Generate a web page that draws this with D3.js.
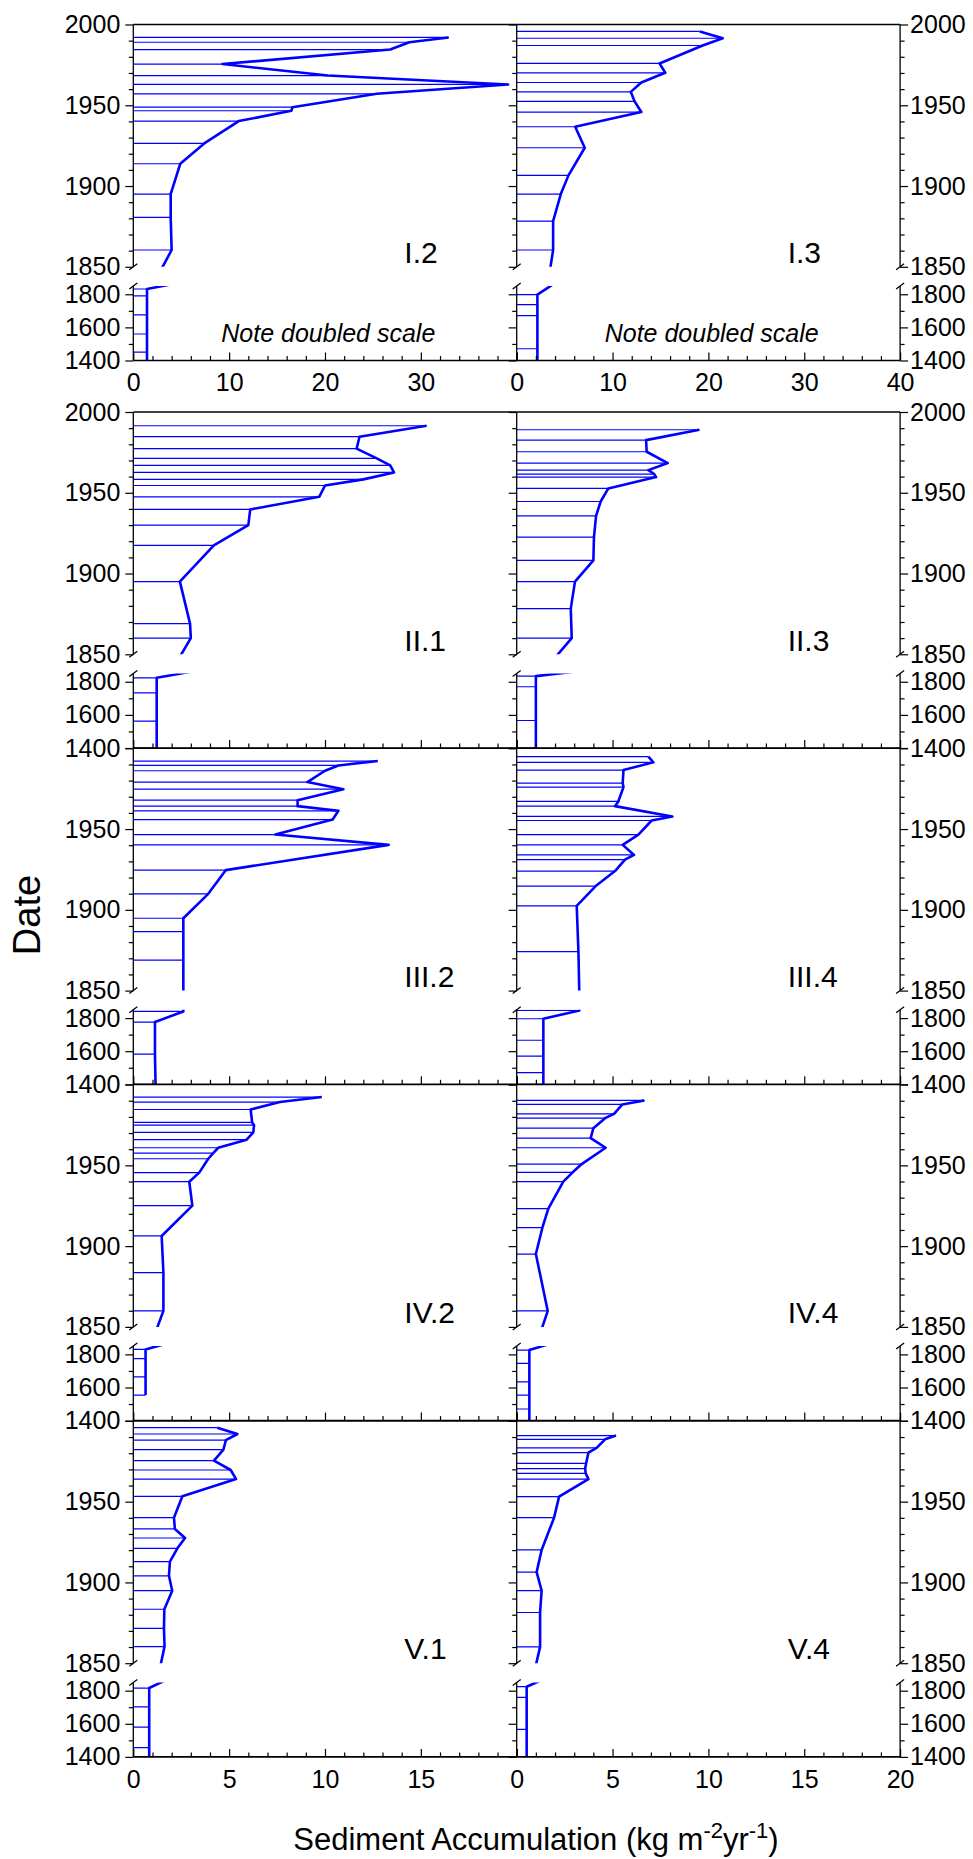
<!DOCTYPE html>
<html>
<head>
<meta charset="utf-8">
<script src="https://cdn.jsdelivr.net/npm/d3@7"></script>
<style>
  body { margin: 0; background: #fff; }
  svg text { font-family: "Liberation Sans", Arial, Helvetica, sans-serif; }
</style>
</head>
<body>
<svg id="chart" width="973" height="1859"></svg>
<script>
// core sample dates (yr) and sediment accumulation (kg m-2 yr-1)
const yearsI2 = [1992, 1989, 1984.5, 1975.5, 1968.4, 1962.9, 1957.1, 1948.8, 1946.6, 1940.2, 1926.4, 1913.8, 1895, 1880.6, 1860.4, 1832, 1790, 1675, 1560, 1450, 1400];
const accI2   = [32.9, 28.8, 26.8, 9.3, 20.3, 39.1, 25.4, 16.6, 16.5, 11.0, 7.4, 4.9, 3.9, 3.9, 4.0, 1.43, 1.43, 1.43, 1.43, 1.43, 1.43];

const yearsI3 = [1995.7, 1991.5, 1987, 1975.9, 1970.1, 1964.1, 1958.3, 1952.4, 1945.8, 1936.7, 1923.7, 1906.6, 1895, 1878.3, 1860.4, 1798, 1737, 1671, 1471, 1400];
const accI3   = [19.1, 21.5, 19.4, 14.9, 15.5, 13.0, 11.9, 12.3, 13.0, 6.1, 7.1, 5.4, 4.6, 3.8, 3.8, 2.16, 2.16, 2.16, 2.16, 2.16];

const yearsII1 = [1991.5, 1984.7, 1977.3, 1971.3, 1966.9, 1962.6, 1958.3, 1954.5, 1947.5, 1939.7, 1930, 1917.4, 1895, 1869, 1860, 1824, 1733, 1562, 1400];
const accII1   = [15.3, 11.8, 11.65, 12.7, 13.4, 13.6, 12.0, 10.0, 9.7, 6.1, 6.0, 4.2, 2.43, 2.96, 3.0, 1.22, 1.22, 1.22, 1.22];

const yearsII3 = [1989, 1982.6, 1975.4, 1968.4, 1964, 1961.6, 1959.7, 1952.7, 1944.6, 1935.7, 1922.5, 1908.1, 1895, 1878.3, 1860, 1834, 1770, 1566, 1400];
const accII3   = [9.53, 6.75, 6.78, 7.88, 6.87, 7.17, 7.27, 4.78, 4.38, 4.14, 4.03, 4.0, 3.04, 2.82, 2.87, 1.0, 1.0, 1.0, 1.0];

const yearsIII2 = [1992.1, 1989.4, 1986.1, 1979.1, 1974.7, 1967.9, 1964.2, 1961.3, 1955.9, 1946.6, 1940.2, 1924.6, 1909.9, 1894.8, 1886.5, 1868.9, 1840, 1776, 1582, 1400];
const accIII2   = [12.75, 10.7, 10.0, 9.08, 10.96, 8.57, 8.57, 10.7, 10.4, 7.41, 13.32, 4.83, 3.91, 2.61, 2.61, 2.61, 2.61, 1.13, 1.13, 1.16];

const yearsIII4 = [1994.8, 1991.3, 1986.5, 1978.5, 1976, 1967.1, 1964.2, 1957.8, 1955.3, 1946.6, 1940.2, 1934, 1931.1, 1924, 1914.7, 1902.5, 1874.1, 1846, 1796, 1666, 1570, 1470, 1400];
const accIII4   = [6.87, 7.13, 5.57, 5.53, 5.57, 5.3, 5.13, 8.12, 7.04, 6.35, 5.53, 6.12, 5.65, 5.13, 4.12, 3.13, 3.22, 3.27, 1.39, 1.39, 1.39, 1.39, 1.39];

const yearsIV2 = [1992.3, 1989.2, 1984.6, 1976.6, 1974.9, 1970.4, 1965.9, 1960.9, 1957.6, 1954.1, 1945.5, 1939.9, 1925.1, 1906.3, 1883.6, 1859.9, 1830, 1774, 1664, 1554];
const accIV2   = [9.83, 7.65, 6.12, 6.2, 6.3, 6.26, 5.91, 4.43, 4.17, 3.91, 3.44, 2.92, 3.08, 1.48, 1.57, 1.57, 0.64, 0.64, 0.64, 0.64];

const yearsIV4 = [1990.2, 1987.7, 1981.9, 1979.2, 1973, 1966.9, 1960.9, 1950.8, 1945.7, 1939.9, 1923.2, 1911.4, 1895.1, 1859.9, 1826, 1746, 1634, 1554, 1470, 1400];
const accIV4   = [6.66, 5.51, 5.08, 4.61, 4.0, 3.86, 4.64, 3.39, 2.92, 2.43, 1.65, 1.34, 1.0, 1.62, 0.66, 0.66, 0.66, 0.66, 0.66, 0.66];

const yearsV1 = [1995.8, 1991.9, 1988.1, 1982.2, 1975.4, 1969.6, 1964, 1953.3, 1940.1, 1933.1, 1927.5, 1921.1, 1912.9, 1904.1, 1894.9, 1883.4, 1871.6, 1860.3, 1816, 1702, 1580, 1456, 1400];
const accV1   = [4.38, 5.43, 4.83, 4.7, 4.21, 5.08, 5.36, 2.56, 2.12, 2.17, 2.7, 2.3, 1.91, 1.86, 2.03, 1.62, 1.6, 1.63, 0.83, 0.83, 0.83, 0.83, 0.83];

const yearsV4 = [1990.9, 1988.6, 1983.3, 1980.3, 1973.7, 1970.4, 1967.5, 1964, 1953.1, 1940.1, 1920.1, 1906.4, 1894.9, 1881.4, 1860.1, 1824, 1760, 1566, 1400];
const accV4   = [5.18, 4.61, 4.17, 3.74, 3.62, 3.57, 3.6, 3.74, 2.21, 1.95, 1.3, 1.04, 1.3, 1.22, 1.22, 0.52, 0.52, 0.52, 0.52];

const coreNames = ["I.2", "I.3", "II.1", "II.3", "III.2", "III.4", "IV.2", "IV.4", "V.1", "V.4"];
const coreYears = [yearsI2, yearsI3, yearsII1, yearsII3, yearsIII2, yearsIII4, yearsIV2, yearsIV4, yearsV1, yearsV4];
const coreAcc   = [accI2, accI3, accII1, accII3, accIII2, accIII4, accIV2, accIV4, accV1, accV4];

const rowMax = [40, 20, 20, 20, 20];
const upperMajor = [1850, 1900, 1950, 2000];
const upperMinor = [1860, 1870, 1880, 1890, 1910, 1920, 1930, 1940, 1960, 1970, 1980, 1990];
const lowerMajor = [1400, 1600, 1800];
const lowerMinor = [1500, 1700];
const xLabelsTop = [[0, 10, 20, 30], [0, 10, 20, 30, 40]];
const xLabelsBottom = [[0, 5, 10, 15], [0, 5, 10, 15, 20]];

const svg = d3.select("#chart");
const colX = [133.3, 516.7], W = 383.4;
const rowY = [24.5, 412, 748.3, 1084.6, 1420.9], H = 336;
const upH = 242.3, loTop = 261.5;
const blue = "#0000ff";
const tickFont = 25;

function styleAxis(sel) {
  sel.select(".domain").remove();
  sel.selectAll(".tick line").attr("stroke", "#000").attr("stroke-width", 1.2);
  sel.selectAll("text").attr("fill", "#000").style("font-size", tickFont + "px");
  sel.attr("font-family", null).attr("font-size", null);
}

coreNames.forEach((name, i) => {
  const row = Math.floor(i / 2), col = i % 2;
  const g = svg.append("g").attr("transform", `translate(${colX[col]},${rowY[row]})`);
  const x = d3.scaleLinear().domain([0, rowMax[row]]).range([0, W]);
  const yU = d3.scaleLinear().domain([1850, 2000]).range([upH, 0]);
  const yL = d3.scaleLinear().domain([1400, 1850]).range([H, loTop]);

  const defs = g.append("defs");
  defs.append("clipPath").attr("id", "cu" + i).append("rect")
    .attr("x", -3).attr("y", 0).attr("width", W + 6).attr("height", upH);
  defs.append("clipPath").attr("id", "cl" + i).append("rect")
    .attr("x", -3).attr("y", loTop).attr("width", W + 6).attr("height", H - loTop);

  const pts = coreYears[i].map((yr, k) => [yr, coreAcc[i][k]]);

  [[yU, "cu" + i], [yL, "cl" + i]].forEach(([y, id]) => {
    const s = g.append("g").attr("clip-path", `url(#${id})`);
    s.selectAll("line").data(pts).join("line")
      .attr("x1", x(0)).attr("x2", d => x(d[1]))
      .attr("y1", d => y(d[0])).attr("y2", d => y(d[0]))
      .attr("stroke", blue).attr("stroke-width", 1.2);
    s.append("path").datum(pts)
      .attr("d", d3.line().x(d => x(d[1])).y(d => y(d[0])))
      .attr("fill", "none").attr("stroke", blue)
      .attr("stroke-width", 2.6).attr("stroke-linejoin", "round");
  });

  // frame lines
  const frame = g.append("g").attr("stroke", "#000").attr("stroke-width", 1.3);
  frame.append("line").attr("x1", 0).attr("x2", W).attr("y1", 0).attr("y2", 0);
  frame.append("line").attr("x1", 0).attr("x2", W).attr("y1", H).attr("y2", H).attr("stroke-width", 1.6);
  const vx = col === 1 ? [0, W] : [0];
  vx.forEach(px => {
    frame.append("line").attr("x1", px).attr("x2", px).attr("y1", 0).attr("y2", upH);
    frame.append("line").attr("x1", px).attr("x2", px).attr("y1", loTop).attr("y2", H);
    // break marks
    frame.append("line").attr("x1", px - 4).attr("x2", px + 4).attr("y1", upH + 3).attr("y2", upH - 3);
    frame.append("line").attr("x1", px - 4).attr("x2", px + 4).attr("y1", loTop + 3).attr("y2", loTop - 3);
  });

  // y axes
  const labFmt = d => (d === 2000 && row >= 2) ? "" : d;
  const leftLabels = col === 0;
  [[yU, upperMajor, upperMinor], [yL, lowerMajor, lowerMinor]].forEach(([y, maj, min]) => {
    g.append("g").call(d3.axisLeft(y).tickValues(maj).tickSize(8).tickPadding(5)
        .tickFormat(leftLabels ? labFmt : () => ""))
      .call(styleAxis);
    g.append("g").call(d3.axisLeft(y).tickValues(min).tickSize(4.5).tickFormat(() => ""))
      .call(styleAxis);
    if (col === 1) {
      g.append("g").attr("transform", `translate(${W},0)`)
        .call(d3.axisRight(y).tickValues(maj).tickSize(8).tickPadding(2).tickFormat(labFmt))
        .call(styleAxis);
      g.append("g").attr("transform", `translate(${W},0)`)
        .call(d3.axisRight(y).tickValues(min).tickSize(4.5).tickFormat(() => ""))
        .call(styleAxis);
    }
  });

  // x axis at the bottom of the row
  const step = rowMax[row] / 4;
  const majX = d3.range(0, rowMax[row] + 0.001, step);
  const minX = d3.range(0, rowMax[row] + 0.001, step / 5).filter(v => Math.abs(v / step - Math.round(v / step)) > 1e-6);
  let labs = null;
  if (row === 0) labs = xLabelsTop[col];
  if (row === 4) labs = xLabelsBottom[col];
  g.append("g").attr("transform", `translate(0,${H})`)
    .call(d3.axisBottom(x).tickValues(majX).tickSizeInner(-8).tickSizeOuter(0).tickPadding(13)
      .tickFormat(d => labs && labs.includes(d) ? d : ""))
    .call(styleAxis);
  g.append("g").attr("transform", `translate(0,${H})`)
    .call(d3.axisBottom(x).tickValues(minX).tickSizeInner(-4.5).tickSizeOuter(0).tickFormat(() => ""))
    .call(styleAxis);

  // core label
  g.append("text").attr("x", 271).attr("y", 238.5)
    .style("font-size", "30px").attr("fill", "#000").text(name);

  if (row === 0) {
    g.append("text").attr("x", 195).attr("y", 317).attr("text-anchor", "middle")
      .style("font-size", "25px").style("font-style", "italic").attr("fill", "#000")
      .text("Note doubled scale");
  }
});

// axis titles
svg.append("text").attr("transform", "translate(40,915) rotate(-90)")
  .attr("text-anchor", "middle").style("font-size", "38px").attr("fill", "#000").text("Date");

const xt = svg.append("text").attr("x", 536).attr("y", 1850).attr("text-anchor", "middle")
  .style("font-size", "31px").attr("fill", "#000");
xt.append("tspan").text("Sediment Accumulation (kg m");
xt.append("tspan").attr("dy", -12).style("font-size", "22px").text("-2");
xt.append("tspan").attr("dy", 12).text("yr");
xt.append("tspan").attr("dy", -12).style("font-size", "22px").text("-1");
xt.append("tspan").attr("dy", 12).text(")");
</script>
</body>
</html>
